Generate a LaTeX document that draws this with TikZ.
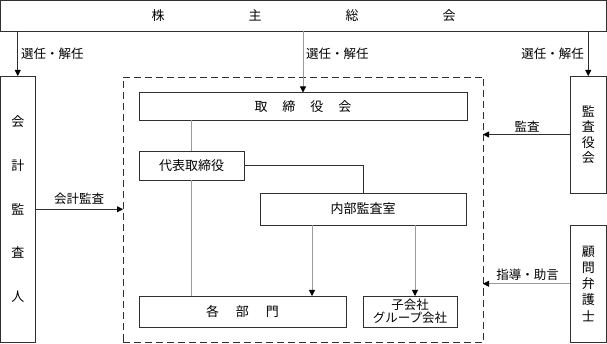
\documentclass[tikz,border=0pt]{standalone}
\usepackage{fontspec}
\setmainfont{Noto Sans CJK JP}
\usetikzlibrary{arrows.meta}
\definecolor{boxline}{HTML}{303030}
\definecolor{lightline}{HTML}{9A9A9A}
\tikzset{
  box/.style={draw=boxline, line width=0.8pt, rectangle, inner sep=0pt, outer sep=0pt, font=\fontsize{13}{15}\selectfont},
  frame/.style={draw=boxline, line width=0.9pt, dash pattern=on 7pt off 4pt, rectangle, inner sep=0pt, outer sep=0pt},
  arr/.style={draw=boxline, line width=0.8pt, -{Triangle[length=6pt,width=6pt,color=black]}},
  garr/.style={draw=lightline, line width=0.8pt, -{Triangle[length=6pt,width=6pt,color=black]}},
  gline/.style={draw=lightline, line width=0.8pt},
  dline/.style={draw=boxline, line width=0.8pt},
  lbl/.style={font=\fontsize{12.5}{14}\selectfont, inner sep=0pt},
}
\begin{document}
\begin{tikzpicture}[x=1pt,y=-1pt]
\useasboundingbox (0,0) rectangle (607,344);
% boxes
\node[box, minimum width=606pt, minimum height=30.5pt] (soukai) at (303.5,15.75)
  {株\hspace{84pt}主\hspace{84pt}総\hspace{84pt}会};
\node[box, minimum width=34.5pt, minimum height=266.5pt, align=center,
  font=\fontsize{13}{43.75}\selectfont] (kaikei) at (17.75,209.25)
  {会\\計\\監\\査\\人};
\node[frame, minimum width=360pt, minimum height=265.5pt] (frm) at (303,209.75) {};
\node[box, minimum width=328pt, minimum height=27.5pt] (tori) at (303,106.25)
  {取\hspace{15pt}締\hspace{15pt}役\hspace{15pt}会};
\node[box, minimum width=105pt, minimum height=29pt] (daihyo) at (191.5,165.5) {代表取締役};
\node[box, minimum width=206pt, minimum height=32pt] (naibu) at (363,209) {内部監査室};
\node[box, minimum width=207pt, minimum height=31pt] (bumon) at (242.5,311.5)
  {各\hspace{17pt}部\hspace{17pt}門};
\node[box, minimum width=94pt, minimum height=31pt, align=center,
  font=\fontsize{12.5}{13}\selectfont] (ko) at (410,311.5) {子会社\\グループ会社};
\node[box, minimum width=36.5pt, minimum height=117pt, align=center,
  font=\fontsize{13}{15.3}\selectfont] (kansa) at (588.25,134.5) {監\\査\\役\\会};
\node[box, minimum width=36.5pt, minimum height=117.5pt, align=center,
  font=\fontsize{13}{16.25}\selectfont] (komon) at (588.25,283.75)
  {\raisebox{-5pt}{\parbox{20pt}{\centering 顧\\問\\弁\\護\\士}}};
% connectors from shareholders
\draw[arr] (kaikei.north |- soukai.south) -- (kaikei.north);
\draw[garr] (tori.north |- soukai.south) -- (tori.north);
\draw[arr] (kansa.north |- soukai.south) -- (kansa.north);
\node[lbl, anchor=west] (l1) at (21,54) {選任・解任};
\node[lbl, anchor=west] (l2) at (306,54) {選任・解任};
\node[lbl, anchor=east] (l3) at (584,54) {選任・解任};
% side arrows
\draw[arr] (kansa.west) -- (frm.east |- kansa.west);
\node[lbl] (l4) at (527,126.5) {監査};
\draw[garr] (komon.west) -- (frm.east |- komon.west);
\node[lbl] (l5) at (527.5,275) {指導・助言};
\draw[arr] (kaikei.east) -- (frm.west |- kaikei.east);
\node[lbl] (l6) at (79,198.5) {会計監査};
% internal
\draw[gline] (daihyo.north |- tori.south) -- (daihyo.north);
\draw[gline] (daihyo.south) -- (daihyo.south |- bumon.north);
\draw[dline] (daihyo.east) -- (naibu.north |- daihyo.east) -- (naibu.north);
\coordinate (nb1) at ([xshift=-51pt]naibu.south);
\coordinate (nb2) at ([xshift=52pt]naibu.south);
\draw[garr] (nb1) -- (nb1 |- bumon.north);
\draw[garr] (nb2) -- (nb2 |- ko.north);
\end{tikzpicture}
\end{document}
